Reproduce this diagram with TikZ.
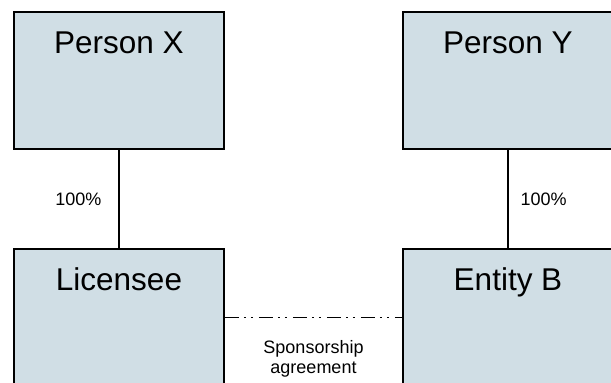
\documentclass[tikz,border=0pt]{standalone}
\usepackage{fontspec}
\setmainfont{Liberation Sans}
\definecolor{boxfill}{RGB}{208,222,229}
\begin{document}
\begin{tikzpicture}
[x=1pt,y=1pt,
entity box/.style={draw=black,line width=1.6pt,fill=boxfill,inner sep=0pt,
  minimum width=210pt,text height=41pt,text depth=96pt,
  font=\fontsize{31.5}{36}\selectfont},
share label/.style={inner sep=0pt,font=\fontsize{18}{20}\selectfont},
link/.style={line width=1.2pt}]
\clip (0,0) rectangle (611,-383);
\node[entity box] (personx) at (119,-80.5) {Person X};
\node[entity box] (persony) at (508,-80.5) {Person Y};
\node[entity box] (licensee) at (119,-317.5) {Licensee};
\node[entity box] (entityb) at (508,-317.5) {Entity B};
\draw[link] (personx.south) -- node[share label,left=17pt] {100\%} (licensee.north);
\draw[link] (persony.south) -- node[share label,right=12pt] {100\%} (entityb.north);
\draw[link,dash pattern=on 14pt off 5pt on 2pt off 5pt on 2pt off 6pt]
  (licensee.east) -- node[share label,below=22pt,align=center]
  {Sponsorship\\agreement} (entityb.west);
\end{tikzpicture}
\end{document}
